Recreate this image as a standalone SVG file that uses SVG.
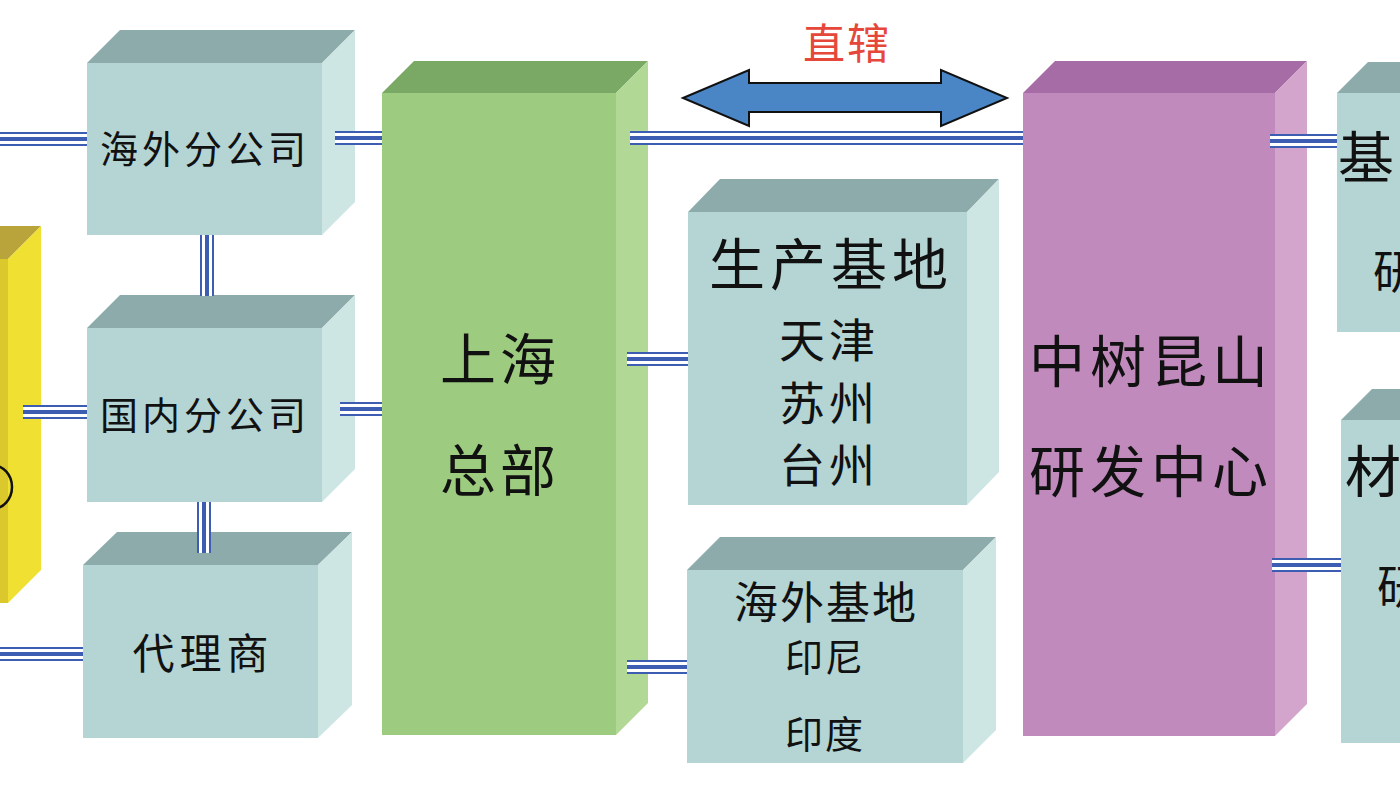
<svg xmlns="http://www.w3.org/2000/svg" width="1400" height="788" viewBox="0 0 1400 788">
<style>
.tf{fill:#b4d5d4}.tt{fill:#8eabab}.ts{fill:#cde6e3}
.gf{fill:#9dcb80}.gt{fill:#79a965}.gs{fill:#b2d895}
.pf{fill:#c18abd}.pt{fill:#a66ca6}.ps{fill:#d3a5cc}
.yf{fill:#dbc82d}.yt{fill:#b8a43a}.ys{fill:#efe032}
text{font-family:"Noto Sans CJK SC","Noto Sans CJK JP",sans-serif;fill:#111;text-anchor:middle}
.c1{stroke:#3d5db2;stroke-width:14;fill:none}
.c2{stroke:#ffffff;stroke-width:10;fill:none}
.c3{stroke:#3d5db2;stroke-width:4;fill:none}
</style>
<rect width="1400" height="788" fill="#ffffff"/>

<g id="yellow">
<rect class="yf" x="-100" y="259" width="108" height="344"/>
<polygon class="yt" points="-100,259 -67,226 41,226 8,259"/>
<polygon class="ys" points="8,259 41,226 41,570 8,603"/>
<ellipse cx="-8" cy="487" rx="20" ry="22" fill="none" stroke="#111" stroke-width="2.5"/>
</g>

<g id="overseas-branch">
<rect class="tf" x="87" y="63" width="235" height="172"/>
<polygon class="tt" points="87,63 120,30 355,30 322,63"/>
<polygon class="ts" points="322,63 355,30 355,202 322,235"/>
<text x="205" y="163" font-size="38" letter-spacing="4">海外分公司</text>
</g>

<g id="domestic-branch">
<rect class="tf" x="87" y="328" width="235" height="174"/>
<polygon class="tt" points="87,328 120,295 355,295 322,328"/>
<polygon class="ts" points="322,328 355,295 355,469 322,502"/>
<text x="205" y="429" font-size="38" letter-spacing="4">国内分公司</text>
</g>

<g id="agent">
<rect class="tf" x="83" y="565" width="235" height="173"/>
<polygon class="tt" points="83,565 117,532 352,532 318,565"/>
<polygon class="ts" points="318,565 352,532 352,705 318,738"/>
<text x="203" y="669" font-size="42" letter-spacing="5">代理商</text>
</g>

<g id="hq">
<rect class="gf" x="382" y="93" width="234" height="642"/>
<polygon class="gt" points="382,93 414,61 648,61 616,93"/>
<polygon class="gs" points="616,93 648,61 648,703 616,735"/>
<text x="500" y="380" font-size="56" letter-spacing="4">上海</text>
<text x="500" y="491" font-size="56" letter-spacing="4">总部</text>
</g>

<g id="production-base">
<rect class="tf" x="688" y="212" width="279" height="293"/>
<polygon class="tt" points="688,212 720,179 999,179 967,212"/>
<polygon class="ts" points="967,212 999,179 999,472 967,505"/>
<text x="831" y="285" font-size="56" letter-spacing="5">生产基地</text>
<text x="829" y="357" font-size="46" letter-spacing="4">天津</text>
<text x="829" y="420" font-size="46" letter-spacing="4">苏州</text>
<text x="829" y="482" font-size="46" letter-spacing="4">台州</text>
</g>

<g id="overseas-base">
<rect class="tf" x="687" y="570" width="276" height="193"/>
<polygon class="tt" points="687,570 720,537 996,537 963,570"/>
<polygon class="ts" points="963,570 996,537 996,730 963,763"/>
<text x="826" y="619" font-size="44" letter-spacing="2">海外基地</text>
<text x="825" y="671" font-size="38" letter-spacing="2">印尼</text>
<text x="825" y="748" font-size="38" letter-spacing="2">印度</text>
</g>

<g id="rd-center">
<rect class="pf" x="1023" y="93" width="252" height="643"/>
<polygon class="pt" points="1023,93 1055,61 1307,61 1275,93"/>
<polygon class="ps" points="1275,93 1307,61 1307,704 1275,736"/>
<text x="1151" y="382" font-size="56" letter-spacing="5">中树昆山</text>
<text x="1151" y="492" font-size="56" letter-spacing="5">研发中心</text>
</g>

<g id="right-box-1">
<rect class="tf" x="1337" y="93" width="200" height="239"/>
<polygon class="tt" points="1337,93 1368,62 1568,62 1537,93"/>
<text x="1338" y="178" font-size="56" style="text-anchor:start">基</text>
<text x="1373" y="288" font-size="46" style="text-anchor:start">研</text>
</g>

<g id="right-box-2">
<rect class="tf" x="1341" y="420" width="200" height="323"/>
<polygon class="tt" points="1341,420 1372,389 1572,389 1541,420"/>
<text x="1345" y="492" font-size="56" style="text-anchor:start">材</text>
<text x="1377" y="603" font-size="46" style="text-anchor:start">研</text>
</g>

<g id="direct-arrow">
<polygon points="683,98 749,70 749,83 941,83 941,70 1007,98 941,126 941,112 749,112 749,126" fill="#4a86c6" stroke="#111" stroke-width="2" stroke-linejoin="miter"/>
<text x="847" y="59" font-size="42" letter-spacing="2" style="fill:#e5473b">直辖</text>
</g>

<g id="connectors">
<g><path class="c1" d="M0,139H87"/><path class="c2" d="M0,139H87"/><path class="c3" d="M0,139H87"/></g>
<g><path class="c1" d="M335,138H382"/><path class="c2" d="M335,138H382"/><path class="c3" d="M335,138H382"/></g>
<g><path class="c1" d="M207,235V296"/><path class="c2" d="M207,235V296"/><path class="c3" d="M207,235V296"/></g>
<g><path class="c1" d="M23,412H87"/><path class="c2" d="M23,412H87"/><path class="c3" d="M23,412H87"/></g>
<g><path class="c1" d="M340,409H382"/><path class="c2" d="M340,409H382"/><path class="c3" d="M340,409H382"/></g>
<g><path class="c1" d="M204,502V553"/><path class="c2" d="M204,502V553"/><path class="c3" d="M204,502V553"/></g>
<g><path class="c1" d="M0,654H83"/><path class="c2" d="M0,654H83"/><path class="c3" d="M0,654H83"/></g>
<g><path class="c1" d="M627,359H688"/><path class="c2" d="M627,359H688"/><path class="c3" d="M627,359H688"/></g>
<g><path class="c1" d="M627,667H687"/><path class="c2" d="M627,667H687"/><path class="c3" d="M627,667H687"/></g>
<g><path class="c1" d="M630,138H1023"/><path class="c2" d="M630,138H1023"/><path class="c3" d="M630,138H1023"/></g>
<g><path class="c1" d="M1270,141H1337"/><path class="c2" d="M1270,141H1337"/><path class="c3" d="M1270,141H1337"/></g>
<g><path class="c1" d="M1272,565H1341"/><path class="c2" d="M1272,565H1341"/><path class="c3" d="M1272,565H1341"/></g>
</g>
</svg>
